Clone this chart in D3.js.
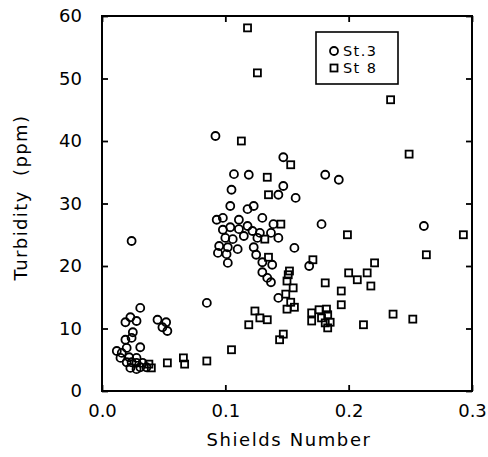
<!DOCTYPE html>
<html>
<head>
<meta charset="utf-8">
<script src="https://cdn.jsdelivr.net/npm/d3@7"></script>
<style>
  html, body { margin: 0; padding: 0; background: #fff; }
  svg { display: block; }
  text { font-family: "DejaVu Sans", sans-serif; fill: #000; }
</style>
</head>
<body>
<svg id="chart" width="488" height="457"></svg>
<script>
// ---- Data ----
const xTicks = [0.0, 0.1, 0.2, 0.3];
const yTicks = [0, 10, 20, 30, 40, 50, 60];
const xTickLabels = ["0.0", "0.1", "0.2", "0.3"];
const yTickLabels = ["0", "10", "20", "30", "40", "50", "60"];
const seriesNames = ["St.3", "St 8"];
const xLabel = "Shields Number";
const yLabel = "Turbidity  (ppm)";

// St.3 (circles): [Shields number, turbidity ppm]
const st3 = [
  [0.092, 40.8], [0.147, 37.4], [0.107, 34.7], [0.119, 34.6], [0.181, 34.6],
  [0.192, 33.8], [0.105, 32.2], [0.147, 32.8], [0.143, 31.4], [0.157, 30.9],
  [0.104, 29.6], [0.118, 29.1], [0.123, 29.6], [0.130, 27.7], [0.093, 27.4],
  [0.098, 27.7], [0.111, 27.4], [0.139, 26.7], [0.178, 26.7], [0.098, 25.8],
  [0.104, 26.2], [0.111, 25.9], [0.118, 26.4], [0.122, 25.6], [0.128, 25.3],
  [0.137, 25.3], [0.100, 24.5], [0.106, 24.3], [0.115, 24.8], [0.126, 24.5],
  [0.143, 24.5], [0.095, 23.2], [0.102, 23.0], [0.110, 22.7], [0.123, 23.0],
  [0.156, 22.9], [0.094, 22.1], [0.101, 21.9], [0.125, 21.8], [0.102, 20.5],
  [0.130, 20.6], [0.138, 20.2], [0.168, 20.0], [0.130, 19.0], [0.134, 18.1],
  [0.137, 17.4], [0.143, 14.9], [0.261, 26.4],
  [0.024, 24.0], [0.031, 13.3], [0.085, 14.1], [0.019, 11.0], [0.023, 11.8],
  [0.028, 11.2], [0.025, 9.4], [0.045, 11.4], [0.052, 11.0], [0.049, 10.2],
  [0.053, 9.6], [0.019, 8.2], [0.024, 8.5], [0.031, 7.0], [0.020, 6.9],
  [0.012, 6.4], [0.016, 6.1], [0.015, 5.3], [0.022, 5.4], [0.020, 4.6],
  [0.024, 4.6], [0.028, 5.3], [0.023, 3.7], [0.028, 4.5], [0.033, 4.5],
  [0.028, 3.5], [0.031, 3.8], [0.036, 3.8]
];

// St 8 (squares): [Shields number, turbidity ppm]
const st8 = [
  [0.118, 58.1], [0.126, 50.9], [0.113, 40.0], [0.234, 46.6], [0.249, 37.9],
  [0.153, 36.2], [0.134, 34.2], [0.135, 31.4], [0.145, 26.7], [0.199, 25.0],
  [0.132, 24.3], [0.135, 21.4], [0.171, 21.0], [0.152, 19.2], [0.151, 18.6],
  [0.150, 17.6], [0.155, 16.5], [0.149, 15.5], [0.153, 14.2], [0.156, 13.4],
  [0.150, 13.1], [0.181, 17.3], [0.194, 16.0], [0.194, 13.8], [0.170, 12.5],
  [0.176, 13.0], [0.182, 13.1], [0.183, 12.2], [0.170, 11.2], [0.178, 11.7],
  [0.181, 10.9], [0.185, 11.0], [0.183, 10.1], [0.124, 12.8], [0.128, 11.7],
  [0.134, 11.4], [0.119, 10.6], [0.147, 9.1], [0.144, 8.2], [0.105, 6.6],
  [0.200, 18.9], [0.215, 18.9], [0.207, 17.8], [0.218, 16.8], [0.212, 10.6],
  [0.236, 12.3], [0.252, 11.5], [0.293, 25.0], [0.263, 21.8], [0.221, 20.5],
  [0.053, 4.5], [0.066, 5.3], [0.067, 4.3], [0.085, 4.8], [0.038, 4.3],
  [0.040, 3.7]
];

// ---- Layout ----
const svg = d3.select("#chart");
const L = 102, R = 472, T = 16, B = 391;
const x = d3.scaleLinear().domain([0, 0.3]).range([L, R]);
const y = d3.scaleLinear().domain([0, 60]).range([B, T]);

const tickLen = 6;
const axisStyle = g => {
  g.selectAll(".domain").remove();
  g.selectAll("line").attr("stroke", "#000").attr("stroke-width", 1.8);
};

// bottom axis (ticks inward)
svg.append("g").attr("transform", `translate(0,${B})`)
  .call(d3.axisBottom(x).tickValues(xTicks).tickSize(-tickLen)
        .tickFormat((d, i) => xTickLabels[i]).tickPadding(12))
  .call(axisStyle)
  .call(g => g.selectAll("text").attr("font-size", 18).attr("font-family", "DejaVu Sans").attr("dy", "0.75em"));

// left axis
svg.append("g").attr("transform", `translate(${L},0)`)
  .call(d3.axisLeft(y).tickValues(yTicks).tickSize(-tickLen)
        .tickFormat((d, i) => yTickLabels[i]).tickPadding(20))
  .call(axisStyle)
  .call(g => g.selectAll("text").attr("font-size", 18).attr("font-family", "DejaVu Sans"));

// top axis
svg.append("g").attr("transform", `translate(0,${T})`)
  .call(d3.axisTop(x).tickValues(xTicks).tickSize(-tickLen).tickFormat(""))
  .call(axisStyle);

// right axis
svg.append("g").attr("transform", `translate(${R},0)`)
  .call(d3.axisRight(y).tickValues(yTicks).tickSize(-tickLen).tickFormat(""))
  .call(axisStyle);

// frame
svg.append("rect").attr("x", L).attr("y", T).attr("width", R - L).attr("height", B - T)
  .attr("fill", "none").attr("stroke", "#000").attr("stroke-width", 2);

// axis titles
svg.append("text").attr("x", (L + R) / 2 + 2).attr("y", 446)
  .attr("text-anchor", "middle").attr("font-size", 18)
  .attr("letter-spacing", 1.6).style("white-space", "pre")
  .text(xLabel);

svg.append("text")
  .attr("transform", `translate(27,${(T + B) / 2 - 6}) rotate(-90)`)
  .attr("text-anchor", "middle").attr("font-size", 18)
  .attr("letter-spacing", 1.4).style("white-space", "pre")
  .text(yLabel);

// ---- Marks ----
const r = 4;
const sq = 7;
svg.append("g").selectAll("circle").data(st3).join("circle")
  .attr("cx", d => x(d[0])).attr("cy", d => y(d[1])).attr("r", r)
  .attr("fill", "none").attr("stroke", "#000").attr("stroke-width", 1.8);

svg.append("g").selectAll("rect").data(st8).join("rect")
  .attr("x", d => x(d[0]) - sq / 2).attr("y", d => y(d[1]) - sq / 2)
  .attr("width", sq).attr("height", sq)
  .attr("fill", "none").attr("stroke", "#000").attr("stroke-width", 1.8);

// ---- Legend ----
const lg = svg.append("g");
lg.append("rect").attr("x", 316).attr("y", 32).attr("width", 82).attr("height", 52)
  .attr("fill", "#fff").attr("stroke", "#000").attr("stroke-width", 1.6);
lg.append("circle").attr("cx", 334).attr("cy", 51).attr("r", r)
  .attr("fill", "none").attr("stroke", "#000").attr("stroke-width", 1.8);
lg.append("rect").attr("x", 334 - sq / 2).attr("y", 68 - sq / 2).attr("width", sq).attr("height", sq)
  .attr("fill", "none").attr("stroke", "#000").attr("stroke-width", 1.8);
lg.selectAll("text.lab").data(seriesNames).join("text").attr("class", "lab")
  .attr("x", 343).attr("y", (d, i) => 51 + i * 17).attr("dy", "0.36em")
  .attr("font-size", 14.5).attr("letter-spacing", 1.4)
  .text(d => d);
</script>
</body>
</html>
